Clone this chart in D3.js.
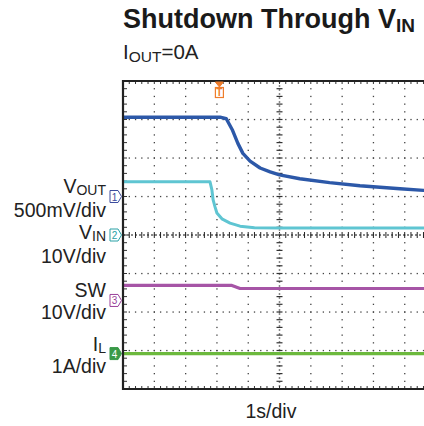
<!DOCTYPE html>
<html>
<head>
<meta charset="utf-8">
<script src="https://cdn.jsdelivr.net/npm/d3@7"></script>
<style>
  body { margin: 0; background: #fff; }
  svg { display: block; font-family: "Liberation Sans", Arial, sans-serif; }
</style>
</head>
<body>
<svg id="chart" width="424" height="426"></svg>
<script>
// time in seconds (1 s/div, 10 div), values in channel units
const vOutTime  = [0, 3.1, 3.3, 3.5, 3.67, 3.83, 4.06, 4.38, 4.7, 5.0, 5.65, 6.6, 7.57, 8.85, 9.6, 10];
const vOutVolts = [1.03, 1.03, 1.01, 0.86, 0.69, 0.56, 0.46, 0.37, 0.32, 0.28, 0.23, 0.18, 0.14, 0.10, 0.08, 0.07];

const vInTime  = [0, 2.78, 2.84, 2.88, 2.94, 3.0, 3.16, 3.42, 3.74, 4.2, 5.0, 10];
const vInVolts = [13.8, 13.8, 11.7, 9.1, 7.3, 5.7, 4.2, 3.1, 2.3, 1.9, 1.8, 1.8];

const swTime  = [0, 3.48, 3.74, 10];
const swVolts = [3.9, 3.9, 3.1, 3.1];

const ilTime = [0, 10];
const ilAmps = [0, 0];

const channels = [
  { id: 1, name: "V", sub: "OUT", scaleLabel: "500mV/div", perDiv: 0.5, offset: 1.0,  color: "#2c58a8", mark: "#3d4d9e", t: vOutTime, v: vOutVolts, width: 3.4 },
  { id: 2, name: "V", sub: "IN",  scaleLabel: "10V/div",   perDiv: 10,  offset: 0,    color: "#5fc5d2", mark: "#2aa1a6", t: vInTime,  v: vInVolts,  width: 3 },
  { id: 3, name: "SW", sub: "",   scaleLabel: "10V/div",   perDiv: 10,  offset: -1.7, color: "#a655a6", mark: "#9a3f9a", t: swTime,   v: swVolts,   width: 3.2 },
  { id: 4, name: "I", sub: "L",   scaleLabel: "1A/div",    perDiv: 1,   offset: -3.08, color: "#6cb93d", mark: "#3a9a48", t: ilTime,   v: ilAmps,    width: 3.2 }
];

const triggerTime = 3.08;

const svg = d3.select("#chart");
const x = d3.scaleLinear().domain([0, 10]).range([123, 436]);
const y = d3.scaleLinear().domain([-4, 4]).range([389, 81]);

const majorX = d3.range(0, 11, 1);
const majorY = d3.range(-4, 5, 1);
const minorX = d3.range(0, 10.01, 0.2);
const minorY = d3.range(-4, 4.01, 0.2);

const plot = svg.append("g");
plot.append("clipPath").attr("id", "clip")
  .append("rect").attr("x", 123).attr("y", 79).attr("width", 301).attr("height", 312);

// dotted grid
const grid = plot.append("g").attr("fill", "#444");
majorY.filter(d => d !== 0 && Math.abs(d) !== 4).forEach(gy => {
  grid.selectAll(null).data(minorX).join("rect")
    .attr("x", d => x(d) - 0.6).attr("y", y(gy) - 0.6)
    .attr("width", 1.3).attr("height", 1.3);
});
majorX.filter(d => d !== 5 && d !== 0).forEach(gx => {
  grid.selectAll(null).data(minorY).join("rect")
    .attr("x", x(gx) - 0.6).attr("y", d => y(d) - 0.6)
    .attr("width", 1.3).attr("height", 1.3);
});

// centre cross with ticks
const cross = plot.append("g");
cross.append("line")
  .attr("x1", x(0)).attr("x2", 424).attr("y1", y(0)).attr("y2", y(0))
  .attr("stroke", "#111").attr("stroke-width", 1).attr("stroke-dasharray", "2,2");
cross.selectAll(null).data(minorX).join("line")
  .attr("x1", d => x(d)).attr("x2", d => x(d))
  .attr("y1", y(0) - 3).attr("y2", y(0) + 3)
  .attr("stroke", "#222").attr("stroke-width", 1);
cross.append("line")
  .attr("x1", x(5)).attr("x2", x(5)).attr("y1", y(4)).attr("y2", y(-4))
  .attr("stroke", "#888").attr("stroke-width", 1.5).attr("stroke-dasharray", "2,2");
cross.selectAll(null).data(minorY).join("line")
  .attr("x1", x(5) - 3).attr("x2", x(5) + 3)
  .attr("y1", d => y(d)).attr("y2", d => y(d))
  .attr("stroke", "#333").attr("stroke-width", 1.2);

// frame ticks
const frame = plot.append("g").attr("stroke", "#333").attr("stroke-width", 1);
frame.selectAll(null).data(minorY).join("line")
  .attr("x1", x(0)).attr("x2", x(0) + 4)
  .attr("y1", d => y(d)).attr("y2", d => y(d));
frame.selectAll(null).data(minorX).join("line")
  .attr("x1", d => x(d)).attr("x2", d => x(d))
  .attr("y1", y(4)).attr("y2", y(4) + 3);
frame.selectAll(null).data(minorX).join("line")
  .attr("x1", d => x(d)).attr("x2", d => x(d))
  .attr("y1", y(-4)).attr("y2", y(-4) - 3);

// traces
const line = d3.line().x(d => x(d[0])).y(d => d[1]);
channels.slice().reverse().forEach(ch => {
  const pts = ch.t.map((t, i) => [t, y(ch.offset + ch.v[i] / ch.perDiv)]);
  plot.append("path")
    .attr("clip-path", "url(#clip)")
    .attr("d", line(pts))
    .attr("fill", "none")
    .attr("stroke", ch.color)
    .attr("stroke-width", ch.width)
    .attr("stroke-linejoin", "round");
});

// frame border
plot.append("path")
  .attr("d", `M424,${y(4)} H${x(0)} V${y(-4)} H424`)
  .attr("fill", "none").attr("stroke", "#222").attr("stroke-width", 2.2);

// trigger marker
const tx = x(triggerTime);
const trig = svg.append("g").attr("stroke", "#ef7d2c").attr("fill", "#fff");
trig.append("path").attr("d", `M${tx - 4},${82} H${tx + 4} L${tx},${87} Z`).attr("fill", "#ef7d2c");
trig.append("rect").attr("x", tx - 4).attr("y", 87.5).attr("width", 8).attr("height", 10).attr("stroke-width", 1.2);
trig.append("text").attr("x", tx).attr("y", 96).attr("text-anchor", "middle")
  .attr("font-size", 10).attr("font-weight", "bold").attr("fill", "#ef7d2c").attr("stroke", "none").text("T");

// channel markers and labels
const labelPos = [
  { name: 193, scale: 217 },
  { name: 239, scale: 263 },
  { name: 297, scale: 319 },
  { name: 351, scale: 373 }
];
channels.forEach((ch, i) => {
  const cy = y(ch.offset);
  const filled = ch.id === 4;
  const m = svg.append("g");
  m.append("path")
    .attr("d", `M110,${cy - 6} H118 L121.5,${cy} L118,${cy + 6} H110 Z`)
    .attr("fill", filled ? ch.mark : "#fff")
    .attr("stroke", ch.mark).attr("stroke-width", 1);
  m.append("text").attr("x", 114.5).attr("y", cy + 4).attr("text-anchor", "middle")
    .attr("font-size", 10).attr("fill", filled ? "#fff" : ch.mark).text(ch.id);

  const t1 = svg.append("text").attr("x", 106).attr("y", labelPos[i].name)
    .attr("text-anchor", "end").attr("font-size", 19.5).attr("fill", "#222");
  t1.append("tspan").text(ch.name);
  if (ch.sub) t1.append("tspan").attr("font-size", 14).attr("dy", 2).text(ch.sub);

  svg.append("text").attr("x", 106).attr("y", labelPos[i].scale)
    .attr("text-anchor", "end").attr("font-size", 19.5).attr("fill", "#222")
    .text(ch.scaleLabel);
});

// titles
const title = svg.append("text").attr("x", 123).attr("y", 28)
  .attr("font-size", 27).attr("font-weight", "bold").attr("fill", "#1a1a1a");
title.append("tspan").text("Shutdown Through V");
title.append("tspan").attr("font-size", 19).attr("dy", 4).text("IN");

const sub = svg.append("text").attr("x", 123).attr("y", 59)
  .attr("font-size", 20.5).attr("fill", "#222");
sub.append("tspan").text("I");
sub.append("tspan").attr("font-size", 15.5).attr("dy", 3).text("OUT");
sub.append("tspan").attr("dy", -3).text("=0A");

svg.append("text").attr("x", 271).attr("y", 418).attr("text-anchor", "middle")
  .attr("font-size", 19.5).attr("fill", "#222").text("1s/div");
</script>
</body>
</html>
